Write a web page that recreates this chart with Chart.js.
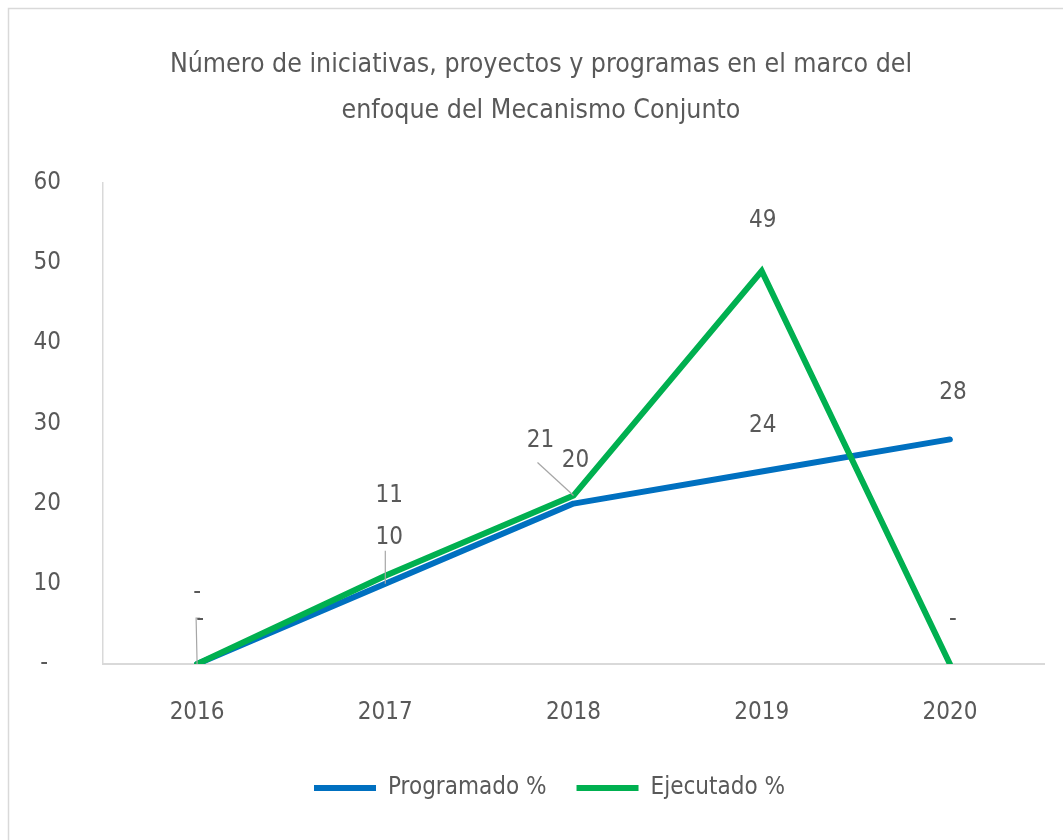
<!DOCTYPE html>
<html>
<head>
<meta charset="utf-8">
<script src="https://cdn.jsdelivr.net/npm/chart.js@4.4.1/dist/chart.umd.min.js"></script>
<style>
  html, body { margin: 0; padding: 0; background: #ffffff; }
  #wrap { position: relative; width: 1063px; height: 840px; }
</style>
</head>
<body>
<div id="wrap"><canvas id="c" width="1063" height="840"></canvas></div>
<script>
// ---- data ----
const categories = ['2016', '2017', '2018', '2019', '2020'];
const programado = [0, 10, 20, 24, 28];
const ejecutado = [0, 11, 21, 49, 0];
const seriesNames = ['Programado %', 'Ejecutado %'];
const yTicks = [0, 10, 20, 30, 40, 50, 60];
const titleLines = ['Número de iniciativas, proyectos y programas en el marco del', 'enfoque del Mecanismo Conjunto'];

// ---- styles ----
const FONT = "'Liberation Sans Narrow', 'DejaVu Sans Condensed', 'Noto Sans', sans-serif";
const TEXT = '#595959';
const BLUE = '#0070C0';
const GREEN = '#00B050';
const AXIS = '#d9d9d9';

// label placement (pixel offsets from the point, like manually-moved Excel labels)
const labelLayout = [
  [ {dx: 3, dy: -44, leader: [-4, -2]}, {dx: 4, dy: -46, leader: [-4, 13]}, {dx: 2, dy: -43}, {dx: 1, dy: -46}, {dx: 3, dy: -47} ],
  [ {dx: 0, dy: -71}, {dx: 4, dy: -80}, {dx: -33, dy: -55, leader: [-3, 22]}, {dx: 1, dy: -50}, {dx: 3, dy: -44} ]
];

const fmt = v => (v === 0 ? '-' : String(v));

const labelsPlugin = {
  id: 'dataLabels',
  afterDatasetsDraw(chart) {
    const ctx = chart.ctx;
    ctx.save();
    ctx.font = '24px ' + FONT;
    ctx.textAlign = 'center';
    ctx.textBaseline = 'middle';
    chart.data.datasets.forEach((ds, di) => {
      const meta = chart.getDatasetMeta(di);
      meta.data.forEach((pt, i) => {
        const lay = labelLayout[di][i];
        const lx = pt.x + lay.dx;
        const ly = pt.y + lay.dy;
        if (lay.leader) {
          ctx.strokeStyle = '#a6a6a6';
          ctx.lineWidth = 1.2;
          ctx.beginPath();
          ctx.moveTo(pt.x, pt.y);
          ctx.lineTo(lx + lay.leader[0], ly + lay.leader[1]);
          if (di === 0 && i === 0) ctx.lineTo(lx, ly + lay.leader[1]);
          ctx.stroke();
        }
        ctx.fillStyle = TEXT;
        ctx.fillText(fmt(ds.data[i]), lx, ly);
      });
    });
    ctx.restore();
  }
};

const borderPlugin = {
  id: 'cardBorder',
  beforeDraw(chart) {
    const ctx = chart.ctx;
    ctx.save();
    ctx.fillStyle = '#ffffff';
    ctx.fillRect(0, 0, chart.width, chart.height);
    ctx.strokeStyle = '#d9d9d9';
    ctx.lineWidth = 1.5;
    ctx.strokeRect(8.5, 8.5, 1200, 1000);
    ctx.restore();
  }
};

// shift title / legend centring to the card centre
const centrePlugin = {
  id: 'centreBoxes',
  afterLayout(chart) {
    if (chart.titleBlock) { chart.titleBlock.left = 38; chart.titleBlock.right = 1044; }
    if (chart.legend) { chart.legend.left = 55; chart.legend.right = 1044; }
  }
};

new Chart(document.getElementById('c'), {
  type: 'line',
  data: {
    labels: categories,
    datasets: [
      { label: seriesNames[0], data: programado, borderColor: BLUE, backgroundColor: BLUE,
        borderWidth: 6, pointRadius: 0, tension: 0, borderCapStyle: 'round', borderJoinStyle: 'round', order: 1 },
      { label: seriesNames[1], data: ejecutado, borderColor: GREEN, backgroundColor: GREEN,
        borderWidth: 6, pointRadius: 0, tension: 0, borderCapStyle: 'round', borderJoinStyle: 'miter', order: 0 }
    ]
  },
  options: {
    responsive: false,
    animation: false,
    devicePixelRatio: 1,
    layout: { padding: { top: 0, left: 0, right: 19, bottom: 30 } },
    plugins: {
      title: {
        display: true,
        text: titleLines,
        color: TEXT,
        font: { family: FONT, size: 26.5, weight: 'normal', lineHeight: 1.75 },
        padding: { top: 42, bottom: 48 }
      },
      legend: {
        position: 'bottom',
        labels: {
          usePointStyle: true,
          pointStyle: 'line',
          pointStyleWidth: 62,
          color: TEXT,
          font: { family: FONT, size: 24 },
          padding: 30,
          sort: (a, b) => a.datasetIndex - b.datasetIndex
        }
      },
      tooltip: { enabled: false }
    },
    scales: {
      x: {
        offset: true,
        grid: { display: false, offset: true },
        border: { display: true, color: AXIS, width: 2 },
        ticks: { color: TEXT, font: { family: FONT, size: 24 }, padding: 26, maxRotation: 0 },
        afterFit: s => { s.height = 82; }
      },
      y: {
        min: 0, max: 60,
        grid: { display: false },
        border: { display: true, color: AXIS, width: 1.5 },
        afterBuildTicks: s => { s.ticks = yTicks.map(v => ({ value: v })); },
        ticks: { color: TEXT, font: { family: FONT, size: 24 }, padding: 34,
                 callback: v => (v === 0 ? '-\u2002\u200A' : String(v)) },
        afterFit: s => { s.width = 103; }
      }
    }
  },
  plugins: [borderPlugin, centrePlugin, labelsPlugin]
});
</script>
</body>
</html>
